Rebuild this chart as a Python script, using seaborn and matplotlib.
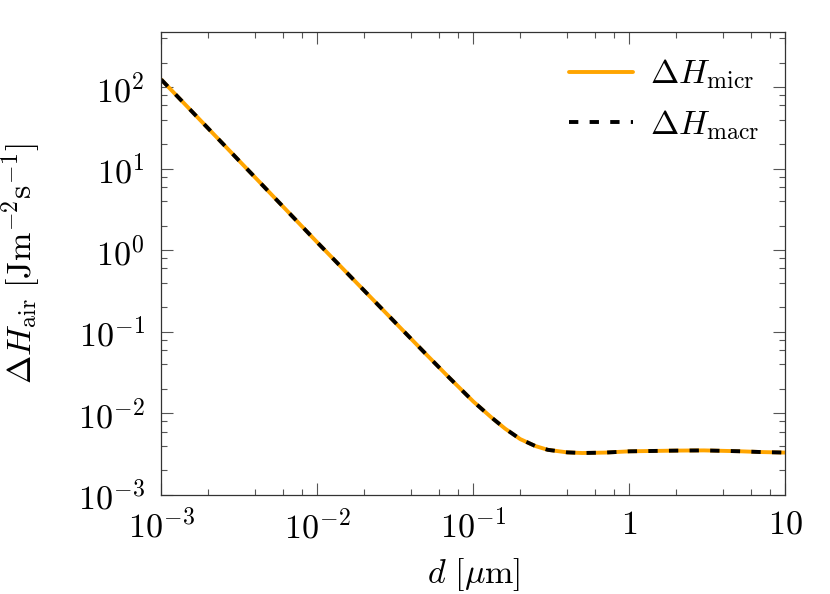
import numpy as np
import pandas as pd
import matplotlib
matplotlib.use('Agg')
import matplotlib.pyplot as plt
import matplotlib.ticker as mticker
import seaborn as sns

# values (log-log)
d_um = [0.001, 0.002, 0.005, 0.01, 0.02, 0.05, 0.07, 0.1, 0.13, 0.16, 0.2,
        0.25, 0.3, 0.4, 0.5, 0.7, 1.0, 2.0, 3.0, 5.0, 7.0, 10.0]
dh_micr = [124, 31.2, 5.0, 1.25, 0.32, 0.0528, 0.0275, 0.0140, 9.0e-3, 6.5e-3,
           4.84e-3, 3.98e-3, 3.58e-3, 3.33e-3, 3.27e-3, 3.31e-3, 3.43e-3,
           3.50e-3, 3.52e-3, 3.44e-3, 3.36e-3, 3.31e-3]
dh_macr = list(dh_micr)

x_ticks = [1e-3, 1e-2, 1e-1, 1, 10]
x_ticklabels = [r'$10^{-3}$', r'$10^{-2}$', r'$10^{-1}$', r'$1$', r'$10$']
y_ticks = [1e-3, 1e-2, 1e-1, 1, 10, 100]
y_ticklabels = [r'$10^{-3}$', r'$10^{-2}$', r'$10^{-1}$', r'$10^{0}$', r'$10^{1}$', r'$10^{2}$']

df = pd.DataFrame({'d': d_um, 'micr': dh_micr, 'macr': dh_macr})

sns.set_style('ticks')
plt.rcParams['mathtext.fontset'] = 'cm'
plt.rcParams['font.family'] = ['DejaVu Serif']
plt.rcParams['text.color'] = 'black'
plt.rcParams['axes.labelcolor'] = 'black'
plt.rcParams['xtick.labelcolor'] = 'black'
plt.rcParams['ytick.labelcolor'] = 'black'

fs = 24.5

fig = plt.figure(figsize=(8.3, 5.94), dpi=100)
ax = fig.add_axes([0.1943, 0.1667, 0.9462 - 0.1943, 0.9461 - 0.1667])

sns.lineplot(data=df, x='d', y='micr', ax=ax, color='orange', lw=2.8,
             label=r'$\Delta H_\mathrm{micr}$')
sns.lineplot(data=df, x='d', y='macr', ax=ax, color='black', lw=2.8,
             label=r'$\Delta H_\mathrm{macr}$')
ax.lines[1].set_dashes((2.4, 2.9))

ax.set_xscale('log')
ax.set_yscale('log')
ax.set_xlim(1e-3, 10)
ax.set_ylim(1e-3, 475)

ax.xaxis.set_major_locator(mticker.FixedLocator(x_ticks))
ax.xaxis.set_major_formatter(mticker.FixedFormatter(x_ticklabels))
ax.yaxis.set_major_locator(mticker.FixedLocator(y_ticks))
ax.yaxis.set_major_formatter(mticker.FixedFormatter(y_ticklabels))
ax.xaxis.set_minor_locator(mticker.LogLocator(base=10, subs=[2, 4, 6, 8], numticks=20))
ax.yaxis.set_minor_locator(mticker.LogLocator(base=10, subs=[2, 4, 6, 8], numticks=20))
ax.xaxis.set_minor_formatter(mticker.NullFormatter())
ax.yaxis.set_minor_formatter(mticker.NullFormatter())

ax.tick_params(which='both', direction='in', top=True, right=True,
               color='#555555', width=0.8, labelsize=fs)
ax.tick_params(which='major', length=8.5)
ax.tick_params(axis='x', which='major', pad=10)
ax.tick_params(axis='y', which='major', pad=12)
ax.tick_params(which='minor', length=4)
for sp in ax.spines.values():
    sp.set_color('#333333')
    sp.set_linewidth(0.9)

ax.set_xlabel(r'$d\ [\mu\mathrm{m}]$', fontsize=fs, labelpad=8)
ax.set_ylabel(r'$\Delta H_\mathrm{air}\ [\mathrm{Jm}^{-2}\mathrm{s}^{-1}]$', fontsize=fs, labelpad=26)

leg = ax.legend(loc='upper right', frameon=False, fontsize=fs, handlelength=1.9,
                handletextpad=0.5, labelspacing=0.5, borderaxespad=0.35)
leg.get_lines()[1].set_dashes((2.4, 2.9))

fig.savefig('out.png', dpi=100)
